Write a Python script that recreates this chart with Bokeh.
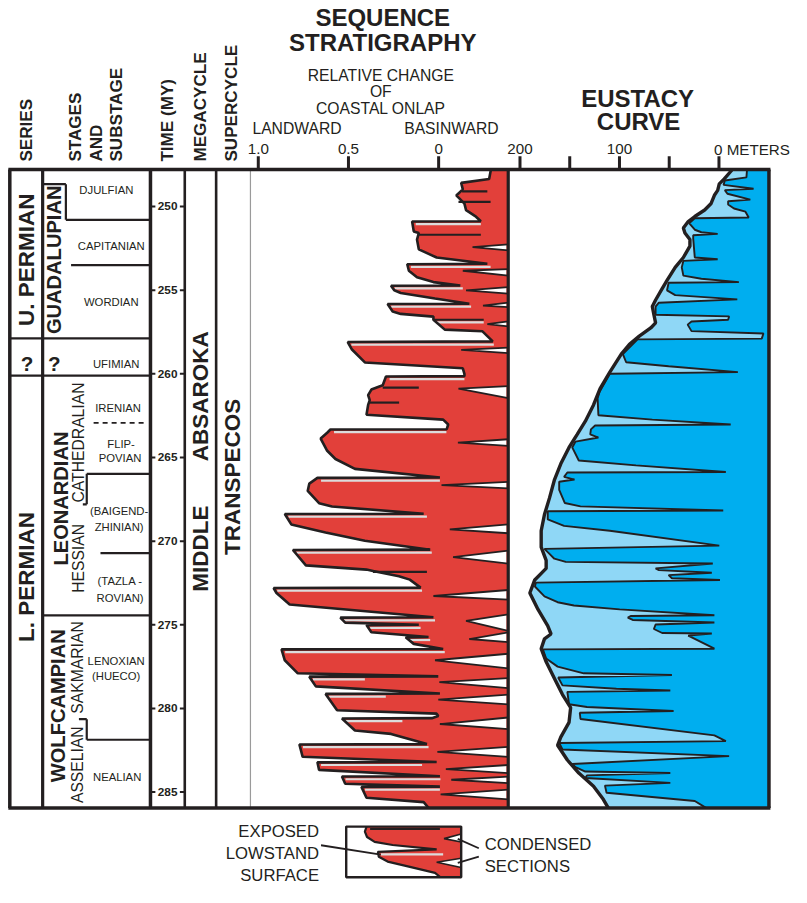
import math
from bokeh.plotting import figure
from bokeh.models import Range1d
from bokeh.core.properties import value
from bokeh.embed import file_html
from bokeh.resources import INLINE

# ------------------------------------------------------------------ data
TIME_TICKS = [250, 255, 260, 265, 270, 275, 280, 285]
TIME_TICK_LABELS = [str(t) for t in TIME_TICKS]
ONLAP_TICKS = [1.0, 0.5, 0.0]
ONLAP_TICK_LABELS = ["1.0", "0.5", "0"]
EUSTACY_TICKS = [200, 150, 100, 50, 0]
EUSTACY_LABEL_VALUES = [200, 100]
EUSTACY_LABELS = ["200", "100"]

T_TOP, T_BOTTOM = 247.79, 285.94      # time (MY) at top / bottom of chart frame
ONLAP_EDGE = -0.386                   # basinward edge of onlap column
EUSTACY_EDGE = -50.2                  # right edge of eustacy column (m)

# stage boundaries (MY) and their left ends
STAGE_LINE_T = [250.80, 253.50, 257.88, 260.11, 265.98, 270.72, 274.44, 281.87]
STAGE_LINE_X0 = [66.7, 72.0, 9.5, 9.5, 88.0, 102.0, 43.0, 88.0]
BRACKET_T0 = [248.67, 265.98, 280.64]
BRACKET_T1 = [250.80, 267.80, 281.87]
BRACKET_X = [66.7, 88.0, 88.0]
BRACKET_STUB_T = [248.67, 267.80, 280.64]
BRACKET_STUB_X0 = [43.0, 84.0, 80.0]
DASHED_T = [262.93]

# coastal onlap curve: landward edge (time MY, relative change 0..1)
ONLAP_T = [247.79, 248.36, 248.59, 248.98, 249.34, 249.53, 249.83, 250.22, 250.61, 250.88,
           250.90, 251.49, 251.59, 251.98, 252.56, 253.05, 253.42,
           253.45, 253.84, 254.23, 254.52, 254.72,
           254.74, 255.01, 255.17, 255.50, 255.81,
           255.83, 256.28, 256.42, 256.58,
           256.77, 257.36, 257.46, 258.06,
           258.10, 258.53, 259.32, 259.67, 260.00, 260.14,
           260.16, 260.68, 260.94, 261.27, 261.57, 261.86, 262.45, 262.74, 263.03, 263.31,
           263.33, 263.52, 263.87, 264.60, 265.09, 265.68, 266.20,
           266.22, 266.56, 267.00, 267.73, 267.93, 268.36,
           268.38, 269.00, 269.49, 269.98, 270.51,
           270.53, 271.45, 271.70, 271.78, 272.10, 272.30, 272.78,
           272.80, 273.10, 273.79, 274.55,
           274.57, 274.87, 275.00,
           275.02, 275.45, 275.73,
           275.75, 276.14, 276.45,
           276.47, 277.12, 277.90, 278.08,
           278.10, 278.68, 279.11,
           279.13, 280.11, 280.31, 280.45, 280.58,
           280.60, 281.32, 281.52, 282.13,
           282.15, 282.89, 283.20,
           283.22, 283.67, 284.05,
           284.07, 284.50, 284.67,
           284.69, 285.34, 285.60, 285.94]
ONLAP_V = [-0.290, -0.280, -0.125, -0.134, -0.098, -0.116, -0.143, -0.152, -0.207, -0.234,
           0.147, 0.138, 0.110, 0.120, 0.110, 0.011, -0.270,
           0.174, 0.165, 0.120, 0.029, -0.120,
           0.264, 0.246, 0.210, 0.020, -0.170,
           0.283, 0.255, 0.210, 0.029,
           0.029, -0.034, -0.243, -0.300,
           0.504, 0.482, 0.409, -0.134, -0.143, -0.143,
           0.292, 0.310, 0.373, 0.391, 0.382, 0.391, 0.400, -0.025, -0.053, -0.045,
           0.600, 0.618, 0.654, 0.618, 0.572, 0.464, -0.007,
           0.672, 0.717, 0.726, 0.663, 0.591, 0.083,
           0.853, 0.817, 0.627, 0.409, 0.047,
           0.808, 0.736, 0.400, 0.364, 0.220, 0.160, 0.100,
           0.915, 0.899, 0.826, 0.029,
           0.545, 0.518, 0.110,
           0.400, 0.373, 0.056,
           0.183, 0.138, -0.025,
           0.871, 0.853, 0.781, 0.002,
           0.717, 0.681, -0.007,
           0.627, 0.563, 0.011, 0.002, 0.038,
           0.536, 0.464, 0.264, 0.065,
           0.772, 0.754, 0.011,
           0.672, 0.663, -0.007,
           0.536, 0.518, -0.007,
           0.428, 0.400, 0.083, 0.056]

# condensed sections (white notches from basinward edge)
NOTCH_TOP = [252.27, 253.74, 254.82, 255.75, 256.87, 258.44, 260.74, 263.91, 266.46, 269.00, 270.57,
             272.92, 274.38, 275.45, 276.73, 278.19, 279.17, 280.54, 282.30, 283.38, 284.07, 284.85]
NOTCH_TIP_T = [252.43, 253.84, 255.01, 255.92, 257.03, 258.57, 260.88, 264.11, 266.65, 269.30, 270.96,
               273.28, 274.77, 275.85, 277.12, 278.43, 279.47, 280.93, 282.60, 283.63, 284.26, 285.14]
NOTCH_BOTTOM = [252.62, 254.13, 255.21, 256.02, 257.16, 258.77, 261.45, 264.31, 266.85, 269.53, 271.35,
                273.50, 275.36, 276.04, 277.61, 278.78, 279.76, 281.23, 282.89, 283.87, 284.46, 285.43]
NOTCH_TIP_V = [-0.188, -0.134, -0.152, -0.246, -0.270, -0.125, -0.110, -0.107, -0.016, -0.062, -0.080,
               0.029, -0.152, -0.170, 0.020, -0.004, 0.002, -0.007, 0.007, -0.040, -0.070, -0.011]

# extra black lines inside the onlap fill
INNER_T = [249.10, 249.73, 251.69, 256.77, 260.82, 261.72, 271.84]
INNER_V0 = [-0.130, -0.110, 0.115, 0.029, 0.310, 0.385, 0.364]
INNER_V1 = [-0.270, -0.288, -0.234, -0.250, 0.110, 0.219, 0.065]

# exposed lowstand surfaces (grey lines under each basinward shift)
LOWSTAND_T = [250.90, 253.45, 254.74, 255.83, 256.77, 258.10, 260.16, 263.33, 266.22, 268.38, 270.53,
              272.80, 274.57, 275.02, 275.75, 276.47, 278.10, 279.13, 280.60, 282.15, 283.22, 284.07, 284.69]
LOWSTAND_V0 = [0.147, 0.174, 0.264, 0.283, 0.029, 0.504, 0.292, 0.600, 0.672, 0.853, 0.808,
               0.915, 0.545, 0.400, 0.183, 0.871, 0.717, 0.627, 0.536, 0.772, 0.672, 0.536, 0.428]
LOWSTAND_V1 = [-0.234, -0.288, -0.134, -0.180, -0.250, -0.306, -0.143, -0.043, -0.007, 0.065, 0.038,
               0.092, 0.020, 0.100, 0.047, -0.034, 0.409, 0.293, 0.201, 0.056, 0.092, -0.010, -0.007]

# eustacy: long-term curve (m)
LONG_T = [247.79, 248.35, 248.65, 249.04, 249.33, 249.82, 250.21, 250.60, 250.90, 251.29, 251.58,
          251.97, 252.37, 253.05, 253.64, 254.42, 254.91, 255.59, 255.98, 256.47, 256.96, 257.26,
          257.75, 258.24, 258.82, 259.90, 260.88, 261.86, 262.83, 263.62, 264.40, 265.38, 266.36,
          267.43, 268.41, 269.38, 270.36, 271.15, 271.63, 272.32, 273.10, 274.08, 275.06, 275.55,
          275.84, 276.43, 277.21, 278.19, 279.17, 279.95, 280.83, 281.71, 282.20, 283.08, 283.86,
          284.65, 285.43, 285.94]
LONG_M = [-13.5, -5.3, -0.3, 1.3, 4.6, 7.9, 14.4, 24.3, 30.9, 35.8, 34.2,
          29.2, 29.2, 35.8, 44.0, 52.2, 57.1, 63.7, 67.0, 65.4, 63.7, 68.6,
          80.1, 90.0, 98.2, 109.7, 119.5, 126.1, 134.3, 142.5, 150.7, 159.0, 165.5,
          170.4, 175.4, 178.7, 178.7, 173.7, 173.7, 185.2, 190.1, 181.9, 172.1, 168.8,
          175.4, 178.7, 173.7, 165.5, 157.3, 149.1, 150.7, 159.0, 162.2, 152.4, 140.9,
          126.1, 116.3, 111.3]

# eustacy: short-term curve (m)
SHORT_T = [247.79, 248.26, 248.45, 248.71, 248.94, 249.02, 249.24, 249.59, 249.69, 249.88,
           250.12, 250.31, 250.66, 250.70, 251.00, 251.39, 251.54, 251.64, 251.72, 251.92,
           253.05, 253.15, 253.25, 253.64, 254.13, 254.32, 254.52, 254.56, 255.01, 255.30,
           255.55, 255.75, 255.98, 256.47, 256.57, 256.77, 256.87, 257.06, 257.45, 257.59,
           257.90, 257.94, 258.82, 259.31, 259.55, 259.90, 260.00, 261.07, 261.46, 262.48,
           262.74, 263.03, 263.09, 263.32, 263.62, 263.81, 264.05, 264.40, 265.18, 265.47,
           265.87, 265.90, 266.16, 266.32, 266.45, 266.94, 267.72, 267.92, 268.17, 268.21,
           268.70, 269.09, 269.38, 270.27, 270.46, 270.66, 271.05, 271.24, 271.34, 271.63,
           271.73, 271.89, 272.03, 272.22, 272.32, 272.48, 272.71, 273.30, 273.65, 273.85,
           274.08, 274.43, 274.47, 274.57, 274.71, 274.86, 274.98, 275.25, 275.49, 275.52,
           275.65, 276.43, 276.47, 277.02, 277.50, 277.90, 278.00, 278.15, 278.62, 278.82,
           278.93, 279.01, 279.75, 279.91, 280.15, 280.26, 280.63, 281.61, 281.95, 282.06,
           282.45, 282.85, 283.32, 283.51, 283.77, 283.86, 284.00, 284.16, 284.45, 284.61,
           285.04, 285.53, 285.94]
SHORT_M = [-28.2, -27.6, -5.9, -4.6, -34.8, -5.9, -8.5, -31.5, -9.2, -9.2,
           -15.1, -26.6, -29.9, 24.3, 30.0, 24.3, 17.7, 1.3, 25.9, 25.9,
           24.3, 1.3, 35.8, 37.4, 35.8, 17.7, -20.0, 50.6, 52.2, 44.0,
           -18.4, 60.4, 63.7, 63.7, -10.2, -9.2, 27.6, 31.5, 27.6, -44.7,
           -43.0, 81.8, 96.6, 93.3, 50.6, -19.0, 109.7, 120.0, 122.0, 121.2,
           67.0, -11.8, 124.5, 128.7, 129.4, 121.2, 144.2, 147.5, 140.9, 83.4,
           -6.9, 152.4, 155.7, 145.2, 160.6, 160.6, 155.0, 139.2, -4.3, 172.1,
           172.1, 155.7, 109.7, -0.3, 175.4, 172.1, 165.5, 154.0, 6.2, 63.7,
           60.4, 7.2, 50.6, 47.3, -1.0, 184.0, 185.0, 175.4, 162.2, 145.8,
           99.8, 4.6, 88.3, 91.6, 86.7, 4.6, 63.7, 65.4, 57.1, 7.2,
           30.9, 4.6, 177.0, 173.7, 162.2, 135.9, 47.3, 161.6, 157.3, 103.1,
           48.9, 152.4, 150.7, 132.7, 45.6, 139.9, 139.2, 4.6, -6.9, 160.6,
           157.3, -10.2, 147.5, 144.2, 134.3, 48.9, 132.7, 134.3, 48.9, 114.6,
           113.0, 24.3, 13.0]

# legend sketch (same onlap / time units)
LEGEND_T = [287.08, 287.36, 287.68, 287.97, 288.16, 288.42, 288.57, 288.86, 289.15, 289.45, 289.83, 290.07]
LEGEND_V = [0.400, 0.409, 0.397, 0.355, 0.255, 0.011, 0.337, 0.332, 0.283, 0.165, 0.020, -0.007]
LEGEND_BOX_V = [0.5125, -0.125]
LEGEND_BOX_T = [287.06, 290.09]
LEGEND_NOTCH_TOP = [287.50, 288.95]
LEGEND_NOTCH_TIP_T = [287.78, 289.19]
LEGEND_NOTCH_BOTTOM = [287.98, 289.50]
LEGEND_NOTCH_TIP_V = [-0.030, 0.011]
LEGEND_LINE_T = [287.20]
LEGEND_LINE_V = [(0.380, -0.007)]
LEGEND_GREY_T = [288.72]
LEGEND_GREY_V = [(0.320, -0.025)]

# ------------------------------------------------------------------ style
RED = "#e2403a"
DARK_BLUE = "#00aeef"
LIGHT_BLUE = "#8fd7f6"
INK = "#231f20"
GREY = "#dcdcdc"
FONT = "Liberation Sans"
SCALE = 0.98


def fs(px):
    return value(f"{px * SCALE:.1f}px")


p = figure(width=791, height=887, x_range=Range1d(0, 807), y_range=Range1d(903, 0),
           output_backend="svg", toolbar_location=None, min_border=0,
           x_axis_location=None, y_axis_location=None)
p.xgrid.visible = False
p.ygrid.visible = False
p.outline_line_color = None
p.background_fill_color = "white"
p.border_fill_color = "white"
p.extra_x_ranges = {"onlap": Range1d(447 / 184, (447 - 807) / 184),
                    "eus": Range1d(733 / 1.015, (733 - 807) / 1.015)}
p.extra_y_ranges = {"time": Range1d(290.70, 237.69)}

ON = dict(x_range_name="onlap", y_range_name="time")
EU = dict(x_range_name="eus", y_range_name="time")
LT = dict(y_range_name="time")


def label(x, y, text, size, bold=False, angle=0.0, align="center", baseline="middle",
          x_offset=0, **rng):
    p.text(x=x, y=y, text=text, angle=angle, x_offset=x_offset,
           text_font=value(FONT), text_font_size=fs(size),
           text_font_style="bold" if bold else "normal", text_color=INK,
           text_align=align, text_baseline=baseline, **rng)


# ------------------------------------------------------------------ onlap (red)
p.patch(ONLAP_V + [ONLAP_EDGE, ONLAP_EDGE], ONLAP_T + [T_BOTTOM, T_TOP],
        fill_color=RED, line_color=None, **ON)
p.segment(x0=[v - 0.02 for v in LOWSTAND_V0], x1=LOWSTAND_V1,
          y0=[t + 0.16 for t in LOWSTAND_T], y1=[t + 0.16 for t in LOWSTAND_T],
          line_color=GREY, line_width=2.2, **ON)
p.segment(x0=INNER_V0, x1=INNER_V1, y0=INNER_T, y1=INNER_T, line_color=INK, line_width=2.2, **ON)
p.patches(xs=[[ONLAP_EDGE + 0.01, v, ONLAP_EDGE + 0.01] for v in NOTCH_TIP_V],
          ys=[[a, b, c] for a, b, c in zip(NOTCH_TOP, NOTCH_TIP_T, NOTCH_BOTTOM)],
          fill_color="white", line_color=None, **ON)
p.multi_line(xs=[[ONLAP_EDGE, v, ONLAP_EDGE] for v in NOTCH_TIP_V],
             ys=[[a, b, c] for a, b, c in zip(NOTCH_TOP, NOTCH_TIP_T, NOTCH_BOTTOM)],
             line_color=INK, line_width=1.8, **ON)
p.line(ONLAP_V, ONLAP_T, line_color=INK, line_width=2.6, **ON)

# ------------------------------------------------------------------ eustacy (blue)
p.patch(LONG_M + [EUSTACY_EDGE, EUSTACY_EDGE], LONG_T + [T_BOTTOM, T_TOP],
        fill_color=DARK_BLUE, line_color=None, **EU)
p.patch(LONG_M + SHORT_M[::-1], LONG_T + SHORT_T[::-1],
        fill_color=LIGHT_BLUE, line_color=None, **EU)
p.line(SHORT_M, SHORT_T, line_color=INK, line_width=1.9, **EU)
p.line(LONG_M, LONG_T, line_color=INK, line_width=3.4, **EU)

# ------------------------------------------------------------------ frame & columns
FRAME_X = [9.5, 43, 153, 188, 220, 255, 518, 784]
FRAME_W = [3.5, 3.2, 3.5, 2.6, 2.6, 1.2, 3.2, 3.5]
FRAME_C = [INK, INK, INK, INK, INK, "#9a9a9a", INK, INK]
p.segment(x0=FRAME_X, x1=FRAME_X, y0=[172] * 8, y1=[822] * 8,
          line_color=FRAME_C, line_width=FRAME_W)
p.segment(x0=[8, 8], x1=[785.5, 785.5], y0=[172, 822], y1=[172, 822],
          line_color=INK, line_width=3.6)

# stage boundaries
p.segment(x0=STAGE_LINE_X0, x1=[153] * len(STAGE_LINE_T), y0=STAGE_LINE_T, y1=STAGE_LINE_T,
          line_color=INK, line_width=2.2, **LT)
p.segment(x0=BRACKET_X, x1=BRACKET_X, y0=BRACKET_T0, y1=BRACKET_T1,
          line_color=INK, line_width=2.2, **LT)
p.segment(x0=BRACKET_STUB_X0, x1=BRACKET_X, y0=BRACKET_STUB_T, y1=BRACKET_STUB_T,
          line_color=INK, line_width=2.2, **LT)
p.segment(x0=[95] * len(DASHED_T), x1=[150] * len(DASHED_T), y0=DASHED_T, y1=DASHED_T,
          line_color=INK, line_width=1.8, line_dash="5 4", **LT)

# time ticks
p.segment(x0=[153] * 8, x1=[158] * 8, y0=TIME_TICKS, y1=TIME_TICKS, line_color=INK, line_width=2, **LT)
p.segment(x0=[183] * 8, x1=[188] * 8, y0=TIME_TICKS, y1=TIME_TICKS, line_color=INK, line_width=2, **LT)
label([170.5] * 8, TIME_TICKS, TIME_TICK_LABELS, 12, bold=True, **LT)

# top scale ticks
p.segment(x0=ONLAP_TICKS, x1=ONLAP_TICKS, y0=[158.5] * 3, y1=[172] * 3,
          line_color=INK, line_width=3, x_range_name="onlap")
p.segment(x0=EUSTACY_TICKS, x1=EUSTACY_TICKS, y0=[158.5] * 5, y1=[172] * 5,
          line_color=INK, line_width=3, x_range_name="eus")
label(ONLAP_TICKS, [151.5] * 3, ONLAP_TICK_LABELS, 15.5, x_range_name="onlap")
label(EUSTACY_LABEL_VALUES, [151.5] * 2, EUSTACY_LABELS, 15.5, x_range_name="eus")
label([0], [151.5], ["0 METERS"], 15.5, align="left", x_offset=-5, x_range_name="eus")

# ------------------------------------------------------------------ headers
label([390, 390], [17.5, 42.5], ["SEQUENCE", "STRATIGRAPHY"], 24.5, bold=True)
label([388, 388, 388], [76.5, 92.5, 109.5], ["RELATIVE CHANGE", "OF", "COASTAL ONLAP"], 16)
label([302.5, 460], [130, 130], ["LANDWARD", "BASINWARD"], 16)
label([650, 651], [100, 123], ["EUSTACY", "CURVE"], 24.5, bold=True)
label([27, 77, 98, 118, 170, 204, 236], [164] * 7,
      ["SERIES", "STAGES", "AND", "SUBSTAGE", "TIME (MY)", "MEGACYCLE", "SUPERCYCLE"],
      17.5, bold=True, angle=math.pi / 2, align="left")

# ------------------------------------------------------------------ column labels
V = math.pi / 2
label([27, 27], [264, 587], ["U. PERMIAN", "L. PERMIAN"], 23, bold=True, angle=V)
label([27, 55], [370, 370], ["?", "?"], 21, bold=True)
label([55, 62, 59], [264, 507, 718], ["GUADALUPIAN", "LEONARDIAN", "WOLFCAMPIAN"], 20.5, bold=True, angle=V)
label([80, 80, 78.5, 78.5], [450, 568, 679, 778], ["CATHEDRALIAN", "HESSIAN", "SAKMARIAN", "ASSELIAN"],
      16, angle=V)
label([204, 204, 237], [403, 558, 485], ["ABSAROKA", "MIDDLE", "TRANSPECOS"], 23, bold=True, angle=V)
label([108, 113, 113, 118, 120, 123, 122, 121, 121, 122, 122, 118, 118, 119],
      [193, 250, 307, 370, 415, 452, 466, 520, 536, 591, 608, 672, 688, 790],
      ["DJULFIAN", "CAPITANIAN", "WORDIAN", "UFIMIAN", "IRENIAN", "FLIP-", "POVIAN",
       "(BAIGEND-", "ZHINIAN)", "(TAZLA -", "ROVIAN)", "LENOXIAN", "(HUECO)", "NEALIAN"], 11.5)

# ------------------------------------------------------------------ legend
p.patch(LEGEND_V + [LEGEND_BOX_V[1], LEGEND_BOX_V[1]], LEGEND_T + [LEGEND_BOX_T[1], LEGEND_T[0]],
        fill_color=RED, line_color=None, **ON)
p.segment(x0=[a for a, b in LEGEND_GREY_V], x1=[b for a, b in LEGEND_GREY_V],
          y0=LEGEND_GREY_T, y1=LEGEND_GREY_T, line_color=GREY, line_width=2.4, **ON)
p.segment(x0=[a for a, b in LEGEND_LINE_V], x1=[b for a, b in LEGEND_LINE_V],
          y0=LEGEND_LINE_T, y1=LEGEND_LINE_T, line_color=INK, line_width=2, **ON)
p.patches(xs=[[LEGEND_BOX_V[1], v, LEGEND_BOX_V[1]] for v in LEGEND_NOTCH_TIP_V],
          ys=[[a, b, c] for a, b, c in zip(LEGEND_NOTCH_TOP, LEGEND_NOTCH_TIP_T, LEGEND_NOTCH_BOTTOM)],
          fill_color="white", line_color=INK, line_width=1.6, **ON)
p.line(LEGEND_V, LEGEND_T, line_color=INK, line_width=2.2, **ON)
p.quad(left=[LEGEND_BOX_V[0]], right=[LEGEND_BOX_V[1]], top=[LEGEND_BOX_T[0]], bottom=[LEGEND_BOX_T[1]],
       fill_color=None, line_color=INK, line_width=2.4, **ON)
p.segment(x0=[327, 488, 488], y0=[860, 863, 871.5], x1=[388, 466.5, 466.5], y1=[869.5, 853.5, 878],
          line_color=INK, line_width=1.8)
label([325, 325, 325], [846, 868.5, 890.5], ["EXPOSED", "LOWSTAND", "SURFACE"], 17, align="right")
label([494, 494], [859, 882], ["CONDENSED", "SECTIONS"], 17, align="left")

open("out.html", "w").write(file_html(p, INLINE))
